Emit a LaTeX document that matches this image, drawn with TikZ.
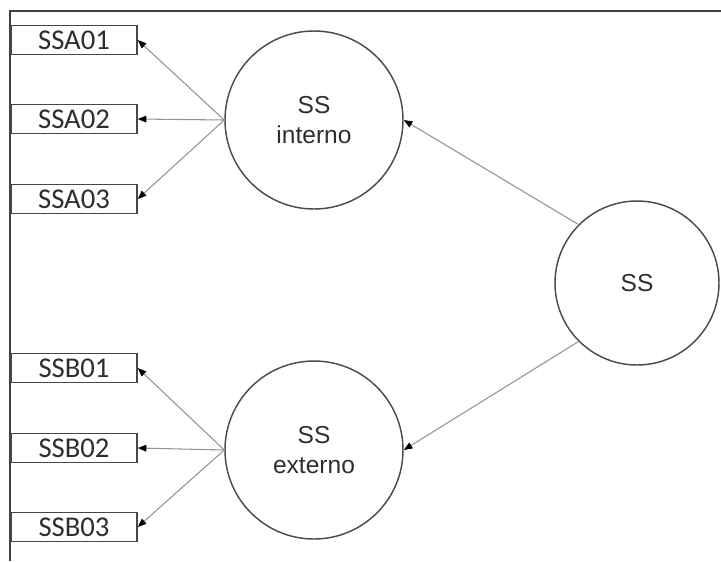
\documentclass[tikz,border=0pt]{standalone}
\usepackage{fontspec}
\setmainfont{Liberation Sans}
\newfontfamily\calfont{Carlito}
\usetikzlibrary{arrows.meta}
\begin{document}
\begin{tikzpicture}[x=0.75pt,y=-0.75pt,
  boxst/.style={draw=black!72, line width=1.1pt, minimum width=94.5pt, minimum height=21.75pt, inner sep=0pt,
    text=black!82, font=\calfont\fontsize{21.5}{24}\selectfont},
  latent/.style={circle, draw=black!70, line width=1.1pt, minimum size=133.5pt, inner sep=0pt, align=center,
    text=black!82, font=\fontsize{18.4}{22.5}\selectfont},
  link/.style={draw=black!42, line width=0.8pt, -{Triangle[length=6.5pt,width=5pt,color=black]}},
  frame/.style={draw=black!75, line width=1.2pt}]
\useasboundingbox (0,0) rectangle (721,561);
% frame
\coordinate (f1) at (10,561);
\coordinate (f2) at (10,11);
\coordinate (f3) at (721,11);
\draw[frame] (f1) -- (f2) -- (f3);
% latent variables
\node[latent] (int) at (314,120) {SS\\interno};
\node[latent] (ext) at (314,450) {SS\\externo};
\node[latent, minimum size=123pt] (ss) at (637,283) {SS};
% indicators
\node[boxst] (a1) at (74,40) {SSA01};
\node[boxst] (a2) at (74,119) {SSA02};
\node[boxst] (a3) at (74,199) {SSA03};
\node[boxst] (b1) at (74,368) {SSB01};
\node[boxst] (b2) at (74,448) {SSB02};
\node[boxst] (b3) at (74,527) {SSB03};
% connectors
\draw[link] (ss.135) -- (int.east);
\draw[link] (ss.225) -- (ext.east);
\draw[link] (int.west) -- (a1.east);
\draw[link] (int.west) -- (a2.east);
\draw[link] (int.west) -- (a3.east);
\draw[link] (ext.west) -- (b1.east);
\draw[link] (ext.west) -- (b2.east);
\draw[link] (ext.west) -- (b3.east);
\end{tikzpicture}
\end{document}
